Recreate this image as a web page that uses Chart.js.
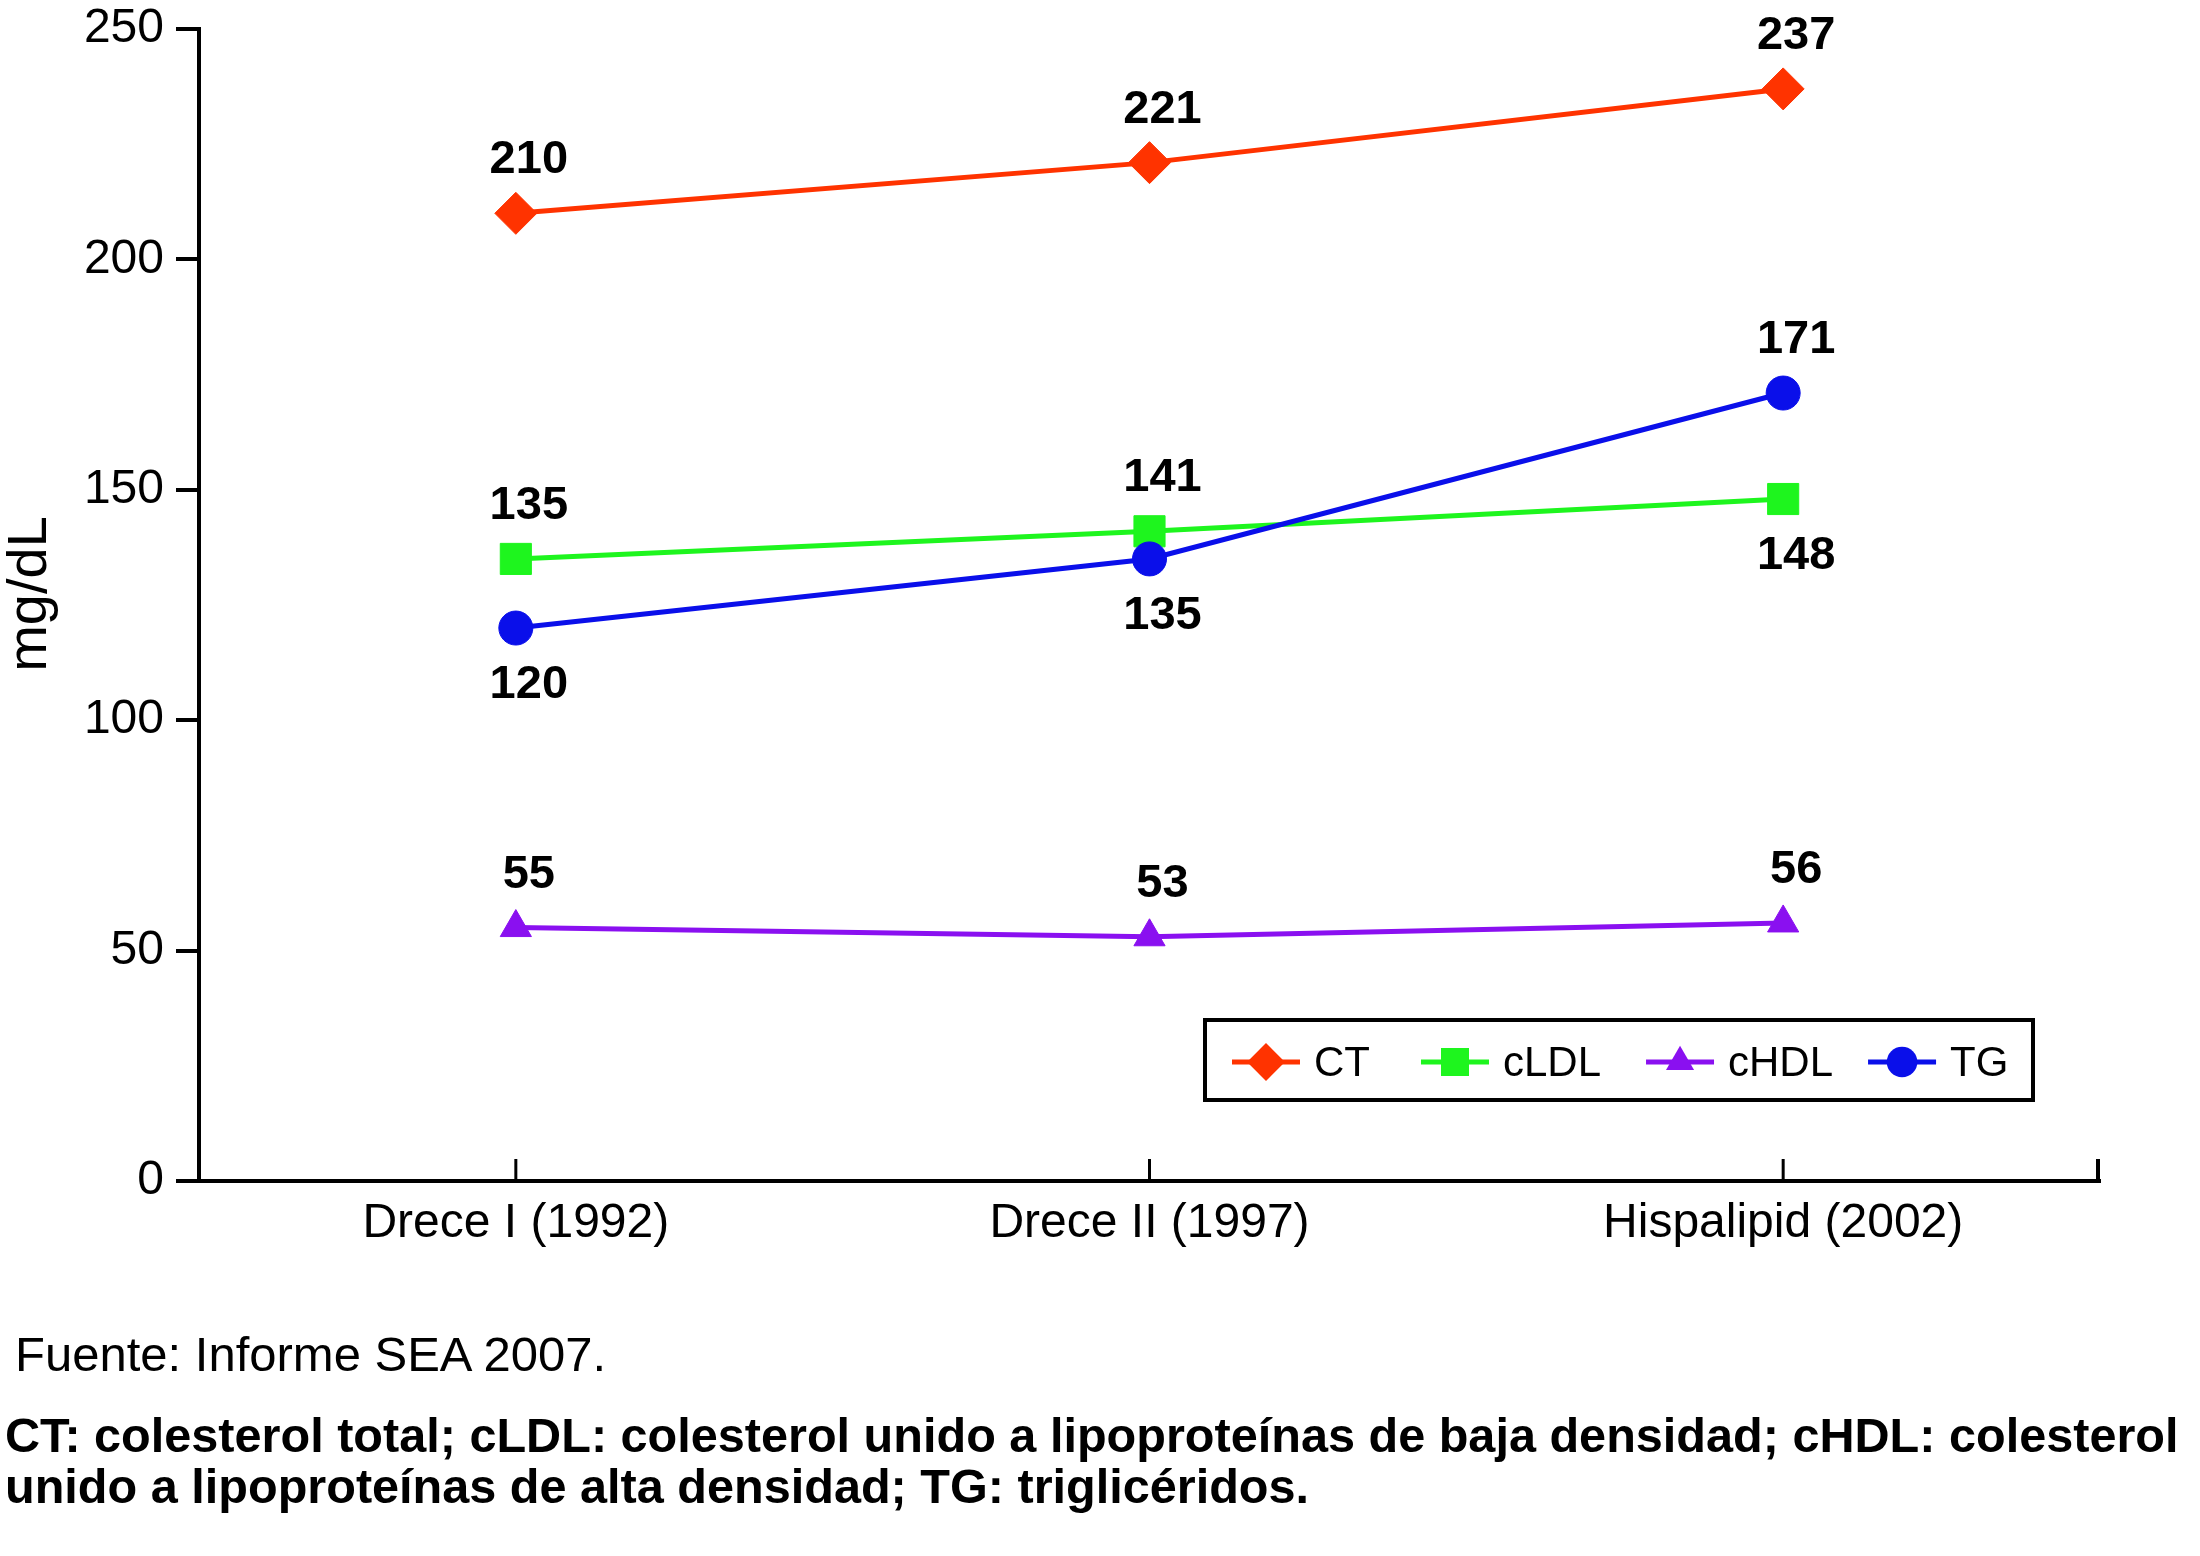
<!DOCTYPE html>
<html><head><meta charset="utf-8">
<script src="https://cdn.jsdelivr.net/npm/chart.js@4.4.1/dist/chart.umd.min.js"></script>
<style>
html,body{margin:0;padding:0;background:#fff;}
#wrap{position:relative;width:2200px;height:1556px;overflow:hidden;background:#fff;}
#c{position:absolute;left:0;top:0;width:2200px;height:1300px;}
.note{position:absolute;font-family:"Liberation Sans",Arial,Helvetica,sans-serif;font-size:49px;line-height:51px;white-space:nowrap;color:#000;}
</style></head><body>
<div id="wrap">
<canvas id="c" width="2200" height="1300"></canvas>
<div class="note" style="left:15px;top:1329px;">Fuente: Informe SEA 2007.</div>
<div class="note" style="left:5px;top:1410px;font-weight:bold;font-size:48.6px;">CT: colesterol total; cLDL: colesterol unido a lipoproteínas de baja densidad; cHDL: colesterol<br>unido a lipoproteínas de alta densidad; TG: triglicéridos.</div>
</div>
<script>
// ---- data ----
const categories = ['Drece I (1992)', 'Drece II (1997)', 'Hispalipid (2002)'];
const seriesNames = ['CT', 'cLDL', 'cHDL', 'TG'];
const ctValues = [210, 221, 237];
const cldlValues = [135, 141, 148];
const chdlValues = [55, 53, 56];
const tgValues = [120, 135, 171];
const yTickValues = [0, 50, 100, 150, 200, 250];
const yTitle = 'mg/dL';

// ---- styles ----
const FONT = '"Liberation Sans", Arial, Helvetica, sans-serif';
Chart.defaults.font.family = FONT;
Chart.defaults.color = '#000';

function ds(label, data, color, style, radius, order, labelPos) {
  return {
    label, data, order,
    borderColor: color, backgroundColor: color,
    borderWidth: 5, tension: 0,
    pointStyle: style, pointRadius: radius, pointHoverRadius: radius,
    pointBackgroundColor: color, pointBorderColor: color, pointBorderWidth: 1,
    labelPos
  };
}
const datasets = [
  ds(seriesNames[0], ctValues, '#FF3300', 'rectRot', 21, 1, ['up','up','up']),
  ds(seriesNames[1], cldlValues, '#1EF51E', 'rect', 22, 2, ['up','up','down']),
  ds(seriesNames[2], chdlValues, '#8A10F0', 'triangle', 18, 3, ['up','up','up']),
  ds(seriesNames[3], tgValues, '#0A0FEA', 'circle', 17, 0, ['down','down','up'])
];

const extras = {
  id: 'extras',
  afterDraw(chart) {
    const ctx = chart.ctx;
    const ca = chart.chartArea;
    const xs = chart.scales.x;
    ctx.save();
    // y-axis title
    ctx.save();
    ctx.translate(31, 594);
    ctx.rotate(-Math.PI / 2);
    ctx.font = '56px ' + FONT;
    ctx.fillStyle = '#000';
    ctx.textAlign = 'center';
    ctx.textBaseline = 'middle';
    ctx.fillText(yTitle, 0, 0);
    ctx.restore();

    // inward category ticks
    ctx.strokeStyle = '#000';
    ctx.lineWidth = 3;
    categories.forEach((c, i) => {
      const x = xs.getPixelForValue(i);
      ctx.beginPath(); ctx.moveTo(x, ca.bottom); ctx.lineTo(x, ca.bottom - 22); ctx.stroke();
    });
    ctx.lineWidth = 4;
    ctx.beginPath(); ctx.moveTo(ca.right - 2, ca.bottom + 2); ctx.lineTo(ca.right - 2, ca.bottom - 22); ctx.stroke();

    // value labels
    ctx.font = 'bold 47px ' + FONT;
    ctx.fillStyle = '#000';
    ctx.textAlign = 'center';
    ctx.textBaseline = 'middle';
    chart.data.datasets.forEach((d, di) => {
      const meta = chart.getDatasetMeta(di);
      meta.data.forEach((pt, i) => {
        const dy = d.labelPos[i] === 'up' ? -56 : 54;
        ctx.fillText(String(d.data[i]), pt.x + 13, pt.y + dy + 3);
      });
    });

    // legend box
    const bx = 1205, by = 1020, bw = 828, bh = 80;
    const gaps = [51, 45, 35, 0];
    ctx.lineWidth = 4;
    ctx.strokeStyle = '#000';
    ctx.strokeRect(bx, by, bw, bh);
    ctx.font = '42px ' + FONT;
    ctx.textAlign = 'left';
    ctx.textBaseline = 'middle';
    const cy = by + bh / 2 + 2;
    let x = bx + 27;
    chart.data.datasets.forEach((d, di) => {
      ctx.strokeStyle = d.borderColor;
      ctx.lineWidth = 5;
      ctx.beginPath(); ctx.moveTo(x, cy); ctx.lineTo(x + 68, cy); ctx.stroke();
      ctx.fillStyle = d.borderColor;
      Chart.helpers.drawPoint(ctx, {pointStyle: d.pointStyle, rotation: 0, radius: d.pointRadius * 0.9, borderWidth: 0}, x + 34, cy);
      ctx.fillStyle = '#000';
      ctx.fillText(d.label, x + 82, cy + 2);
      x += 82 + ctx.measureText(d.label).width + gaps[di];
    });
    ctx.restore();
  }
};

new Chart(document.getElementById('c'), {
  type: 'line',
  data: { labels: categories, datasets },
  options: {
    responsive: false,
    devicePixelRatio: 1,
    animation: false,
    events: [],
    layout: { padding: { top: 29, right: 100, bottom: 0, left: 0 } },
    plugins: { legend: { display: false }, tooltip: { enabled: false } },
    scales: {
      x: {
        type: 'category',
        offset: true,
        grid: { display: false, drawTicks: false },
        border: { display: true, color: '#000', width: 4 },
        ticks: { font: { size: 48 }, color: '#000', padding: 14, maxRotation: 0 },
        afterFit(s) { s.height = 119; s.paddingLeft = 0; s.paddingRight = 0; }
      },
      y: {
        min: 0, max: 250,
        afterBuildTicks(s) { s.ticks = yTickValues.map(v => ({ value: v })); },
        grid: { drawOnChartArea: false, drawTicks: true, tickLength: 23, color: '#000', lineWidth: 4 },
        border: { display: true, color: '#000', width: 4 },
        ticks: { font: { size: 48 }, color: '#000', padding: 12 },
        title: { display: false },
        afterFit(s) { s.width = 199; s.paddingTop = 0; s.paddingBottom = 0; }
      }
    }
  },
  plugins: [extras]
});
</script>
</body></html>
